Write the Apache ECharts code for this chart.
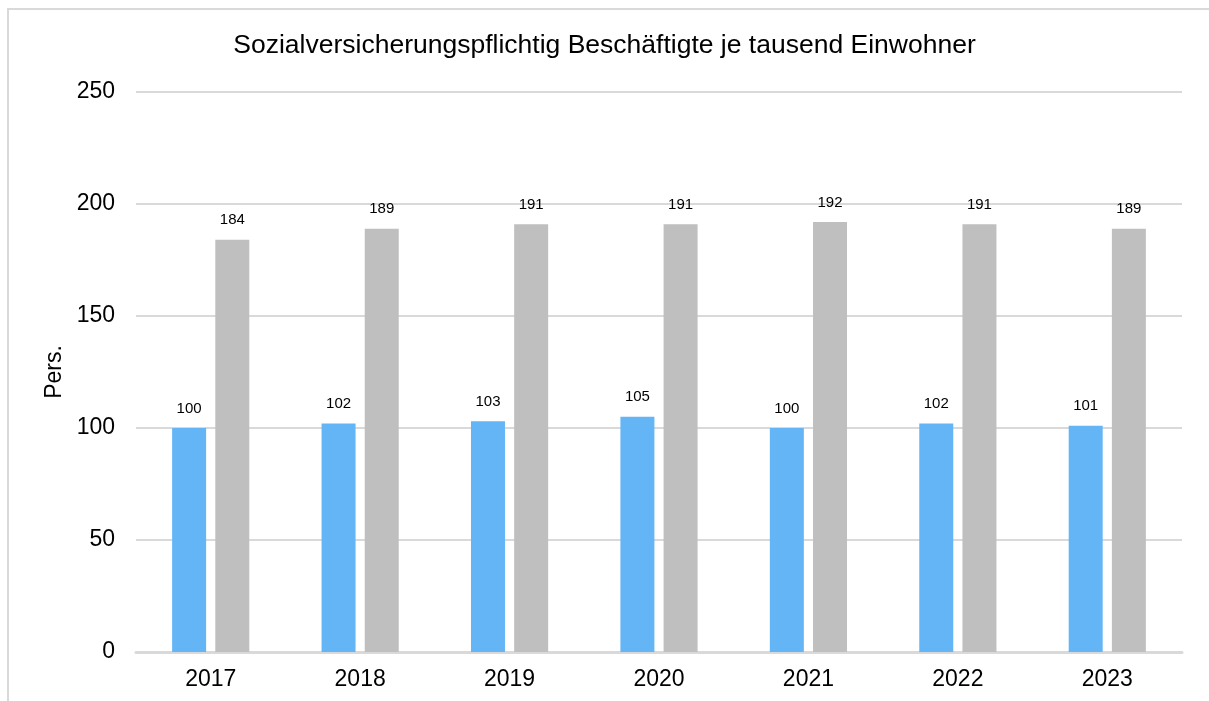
<!DOCTYPE html>
<html>
<head>
<meta charset="utf-8">
<script src="https://cdn.jsdelivr.net/npm/echarts@6/dist/echarts.min.js"></script>
<style>
  html, body { margin: 0; padding: 0; background: #fff; }
  #frame { position: absolute; left: 7px; top: 8px; width: 1220px; height: 720px;
           border: 2px solid #d9d9d9; box-sizing: border-box; }
  #chart { position: absolute; left: 0; top: 0; width: 1209px; height: 701px; }
</style>
</head>
<body>
<div id="frame"></div>
<div id="chart"></div>
<script>
// Jahre
const years = ['2017', '2018', '2019', '2020', '2021', '2022', '2023'];
// Beschäftigte je tausend Einwohner (zwei Reihen)
const seriesA = [100, 102, 103, 105, 100, 102, 101];
const seriesB = [184, 189, 191, 191, 192, 191, 189];
const titleText = 'Sozialversicherungspflichtig Beschäftigte je tausend Einwohner';
const yAxisName = 'Pers.';

const chart = echarts.init(document.getElementById('chart'), null, { renderer: 'canvas' });
const font = 'Liberation Sans, Arial, sans-serif';
const labelStyle = { show: true, position: 'top', distance: 12, color: '#000', fontSize: 15, fontFamily: font };

chart.setOption({
  animation: false,
  backgroundColor: 'transparent',
  title: {
    text: titleText, left: 'center', top: 27,
    textStyle: { fontSize: 26.5, fontWeight: 'normal', color: '#000', fontFamily: font }
  },
  grid: { left: 136, right: 27, top: 92, bottom: 49, containLabel: false },
  xAxis: {
    type: 'category', data: years,
    axisLine: { lineStyle: { color: '#d9d9d9', width: 3 } },
    axisTick: { show: false },
    axisLabel: { color: '#000', fontSize: 23, fontFamily: font, margin: 16 }
  },
  yAxis: {
    type: 'value', min: 0, max: 250, interval: 50,
    name: yAxisName, nameLocation: 'middle', nameGap: 69, nameRotate: 90,
    nameTextStyle: { color: '#000', fontSize: 23, fontFamily: font },
    axisLine: { show: false }, axisTick: { show: false },
    axisLabel: { color: '#000', fontSize: 23, fontFamily: font, margin: 21 },
    splitLine: { lineStyle: { color: '#d9d9d9', width: 2 } }
  },
  series: [
    { type: 'bar', data: seriesA, barWidth: 34, barGap: '27%',
      itemStyle: { color: '#64B5F6' }, label: labelStyle },
    { type: 'bar', data: seriesB, barWidth: 34,
      itemStyle: { color: '#BFBFBF' }, label: labelStyle }
  ]
});
</script>
</body>
</html>
